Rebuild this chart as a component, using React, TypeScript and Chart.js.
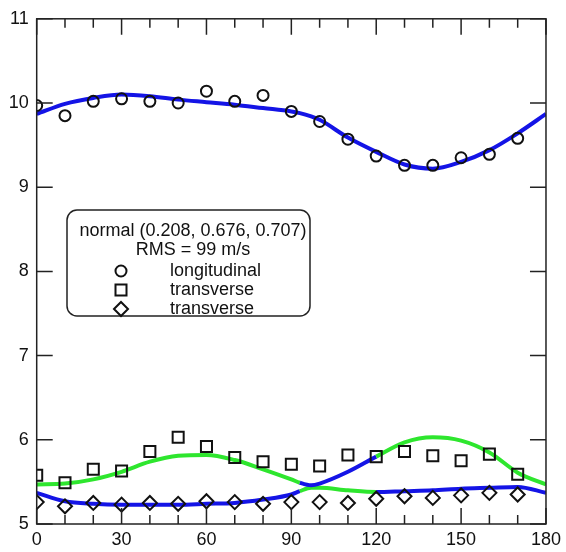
import React, { useEffect, useRef } from "react";
import { Chart, registerables } from "chart.js";
Chart.register(...registerables);

// ---- data ----
const angles = [0, 10, 20, 30, 40, 50, 60, 70, 80, 90, 100, 110, 120, 130, 140, 150, 160, 170];
const longitudinal = [9.97, 9.85, 10.02, 10.05, 10.02, 10.0, 10.14, 10.02, 10.09, 9.9, 9.78, 9.57, 9.37, 9.26, 9.26, 9.35, 9.39, 9.58];
const transverseSquares = [5.58, 5.49, 5.65, 5.63, 5.86, 6.03, 5.92, 5.79, 5.74, 5.71, 5.69, 5.82, 5.8, 5.86, 5.81, 5.75, 5.83, 5.59];
const transverseDiamonds = [5.26, 5.21, 5.25, 5.23, 5.25, 5.24, 5.27, 5.26, 5.24, 5.26, 5.26, 5.25, 5.3, 5.33, 5.31, 5.34, 5.37, 5.35];

const fitAngles = [0, 10, 20, 30, 40, 50, 60, 70, 80, 90, 93, 97, 100, 110, 120, 130, 140, 150, 160, 170, 180];
const fitLongitudinal = [9.87, 9.99, 10.06, 10.1, 10.08, 10.04, 10.01, 9.98, 9.94, 9.9, 9.88, 9.84, 9.8, 9.59, 9.42, 9.27, 9.22, 9.3, 9.44, 9.64, 9.87];
const fitUpper = [5.47, 5.48, 5.53, 5.62, 5.74, 5.81, 5.82, 5.76, 5.65, 5.53, 5.49, 5.46, 5.48, 5.62, 5.8, 5.97, 6.03, 5.99, 5.85, 5.61, 5.47];
const fitLower = [5.37, 5.27, 5.24, 5.23, 5.23, 5.23, 5.24, 5.25, 5.29, 5.35, 5.39, 5.43, 5.43, 5.4, 5.38, 5.39, 5.4, 5.42, 5.43, 5.44, 5.37];
const swapRange = [93, 120];

const xAxis = { min: 0, max: 180, major: 30, minor: 10 };
const yAxis = { min: 5, max: 11, step: 1 };

const legendTitle = ["normal (0.208, 0.676, 0.707)", "RMS = 99 m/s"];
const legendLabels = ["longitudinal", "transverse", "transverse"];

const BLUE = "#1414e6";
const GREEN = "#2ee62e";
const FONT = '"Liberation Sans", Arial, Helvetica, sans-serif';

const pts = (xs: number[], ys: number[]) => xs.map((x, i) => ({ x, y: ys[i] }));

const branchColor = (branch: "upper" | "lower") => (ctx: any) => {
  const xm = (ctx.p0.parsed.x + ctx.p1.parsed.x) / 2;
  const inSwap = xm > swapRange[0] && xm < swapRange[1];
  if (branch === "upper") return inSwap ? BLUE : GREEN;
  return inSwap ? GREEN : BLUE;
};

function drawMarker(ctx: CanvasRenderingContext2D, style: string, x: number, y: number) {
  ctx.beginPath();
  if (style === "circle") {
    ctx.arc(x, y, 5.5, 0, Math.PI * 2);
  } else if (style === "rect") {
    ctx.rect(x - 5.5, y - 5.5, 11, 11);
  } else {
    ctx.moveTo(x - 7, y);
    ctx.lineTo(x, y - 7);
    ctx.lineTo(x + 7, y);
    ctx.lineTo(x, y + 7);
    ctx.closePath();
  }
  ctx.stroke();
}

const frameAndTicks = {
  id: "frameAndTicks",
  afterDatasetsDraw(chart: any) {
    const { ctx, chartArea, scales } = chart;
    const { left, right, top, bottom } = chartArea;
    ctx.save();
    ctx.strokeStyle = "#222";
    ctx.lineWidth = 1.5;
    ctx.strokeRect(left, top, right - left, bottom - top);
    ctx.beginPath();
    for (let v = xAxis.min; v <= xAxis.max; v += xAxis.minor) {
      const px = scales.x.getPixelForValue(v);
      const len = v % xAxis.major === 0 ? 16 : 9;
      ctx.moveTo(px, bottom);
      ctx.lineTo(px, bottom - len);
      ctx.moveTo(px, top);
      ctx.lineTo(px, top + len);
    }
    for (let v = yAxis.min; v <= yAxis.max; v += yAxis.step) {
      const py = scales.y.getPixelForValue(v);
      ctx.moveTo(left, py);
      ctx.lineTo(left + 16, py);
      ctx.moveTo(right, py);
      ctx.lineTo(right - 16, py);
    }
    ctx.stroke();
    ctx.restore();
  },
};

const legendBox = {
  id: "legendBox",
  afterDraw(chart: any) {
    const ctx: CanvasRenderingContext2D = chart.ctx;
    const bx = 67, by = 210, bw = 243, bh = 106, r = 10;
    ctx.save();
    ctx.beginPath();
    ctx.moveTo(bx + r, by);
    ctx.arcTo(bx + bw, by, bx + bw, by + bh, r);
    ctx.arcTo(bx + bw, by + bh, bx, by + bh, r);
    ctx.arcTo(bx, by + bh, bx, by, r);
    ctx.arcTo(bx, by, bx + bw, by, r);
    ctx.closePath();
    ctx.fillStyle = "#fff";
    ctx.fill();
    ctx.strokeStyle = "#222";
    ctx.lineWidth = 1.5;
    ctx.stroke();

    ctx.fillStyle = "#111";
    ctx.font = `18px ${FONT}`;
    ctx.textBaseline = "middle";
    ctx.textAlign = "center";
    legendTitle.forEach((t, i) => ctx.fillText(t, 193, 231 + i * 19));

    const styles = ["circle", "rect", "rectRot"];
    ctx.textAlign = "left";
    ctx.strokeStyle = "#111";
    ctx.lineWidth = 2;
    legendLabels.forEach((lab, i) => {
      const y = 271 + i * 19;
      drawMarker(ctx, styles[i], 121, y);
      ctx.fillText(lab, 170, y);
    });
    ctx.restore();
  },
};

export default function App() {
  const ref = useRef<HTMLCanvasElement>(null);
  useEffect(() => {
    if (!ref.current) return;
    const markerBase = {
      showLine: false,
      borderColor: "#111",
      backgroundColor: "rgba(0,0,0,0)",
      borderWidth: 2,
    };
    const lineBase = {
      showLine: true,
      pointRadius: 0,
      borderWidth: 4,
      cubicInterpolationMode: "monotone" as const,
      fill: false,
    };
    const chart = new Chart(ref.current, {
      type: "scatter",
      data: {
        datasets: [
          { ...markerBase, label: legendLabels[0], data: pts(angles, longitudinal), pointStyle: "circle", pointRadius: 5.5 },
          { ...markerBase, label: legendLabels[1], data: pts(angles, transverseSquares), pointStyle: "rect", pointRadius: 7.8 },
          { ...markerBase, label: legendLabels[2], data: pts(angles, transverseDiamonds), pointStyle: "rectRot", pointRadius: 7 },
          { ...lineBase, label: "fit longitudinal", data: pts(fitAngles, fitLongitudinal), borderColor: BLUE },
          { ...lineBase, label: "fit upper", data: pts(fitAngles, fitUpper), borderColor: GREEN, segment: { borderColor: branchColor("upper") } },
          { ...lineBase, label: "fit lower", data: pts(fitAngles, fitLower), borderColor: BLUE, segment: { borderColor: branchColor("lower") } },
        ] as any,
      },
      options: {
        animation: false,
        responsive: false,
        maintainAspectRatio: false,
        layout: { padding: { top: 14, right: 19, left: 0, bottom: 0 } },
        plugins: { legend: { display: false }, tooltip: { enabled: false } },
        scales: {
          x: {
            type: "linear",
            min: xAxis.min,
            max: xAxis.max,
            grid: { display: false, drawTicks: false },
            border: { display: false },
            ticks: { stepSize: xAxis.major, padding: 5, color: "#111", font: { size: 18, family: FONT } },
            afterFit: (s: any) => { s.height = 28; },
          },
          y: {
            type: "linear",
            min: yAxis.min,
            max: yAxis.max,
            grid: { display: false, drawTicks: false },
            border: { display: false },
            ticks: { stepSize: yAxis.step, padding: 8, color: "#111", font: { size: 18, family: FONT } },
            afterFit: (s: any) => { s.width = 36.7; },
          },
        },
      },
      plugins: [frameAndTicks, legendBox],
    });
    return () => chart.destroy();
  }, []);
  return (
    <div style={{ position: "absolute", left: 0, top: 0, width: 566, height: 552, background: "#fff" }}>
      <canvas ref={ref} width={566} height={552} style={{ display: "block" }} />
    </div>
  );
}
